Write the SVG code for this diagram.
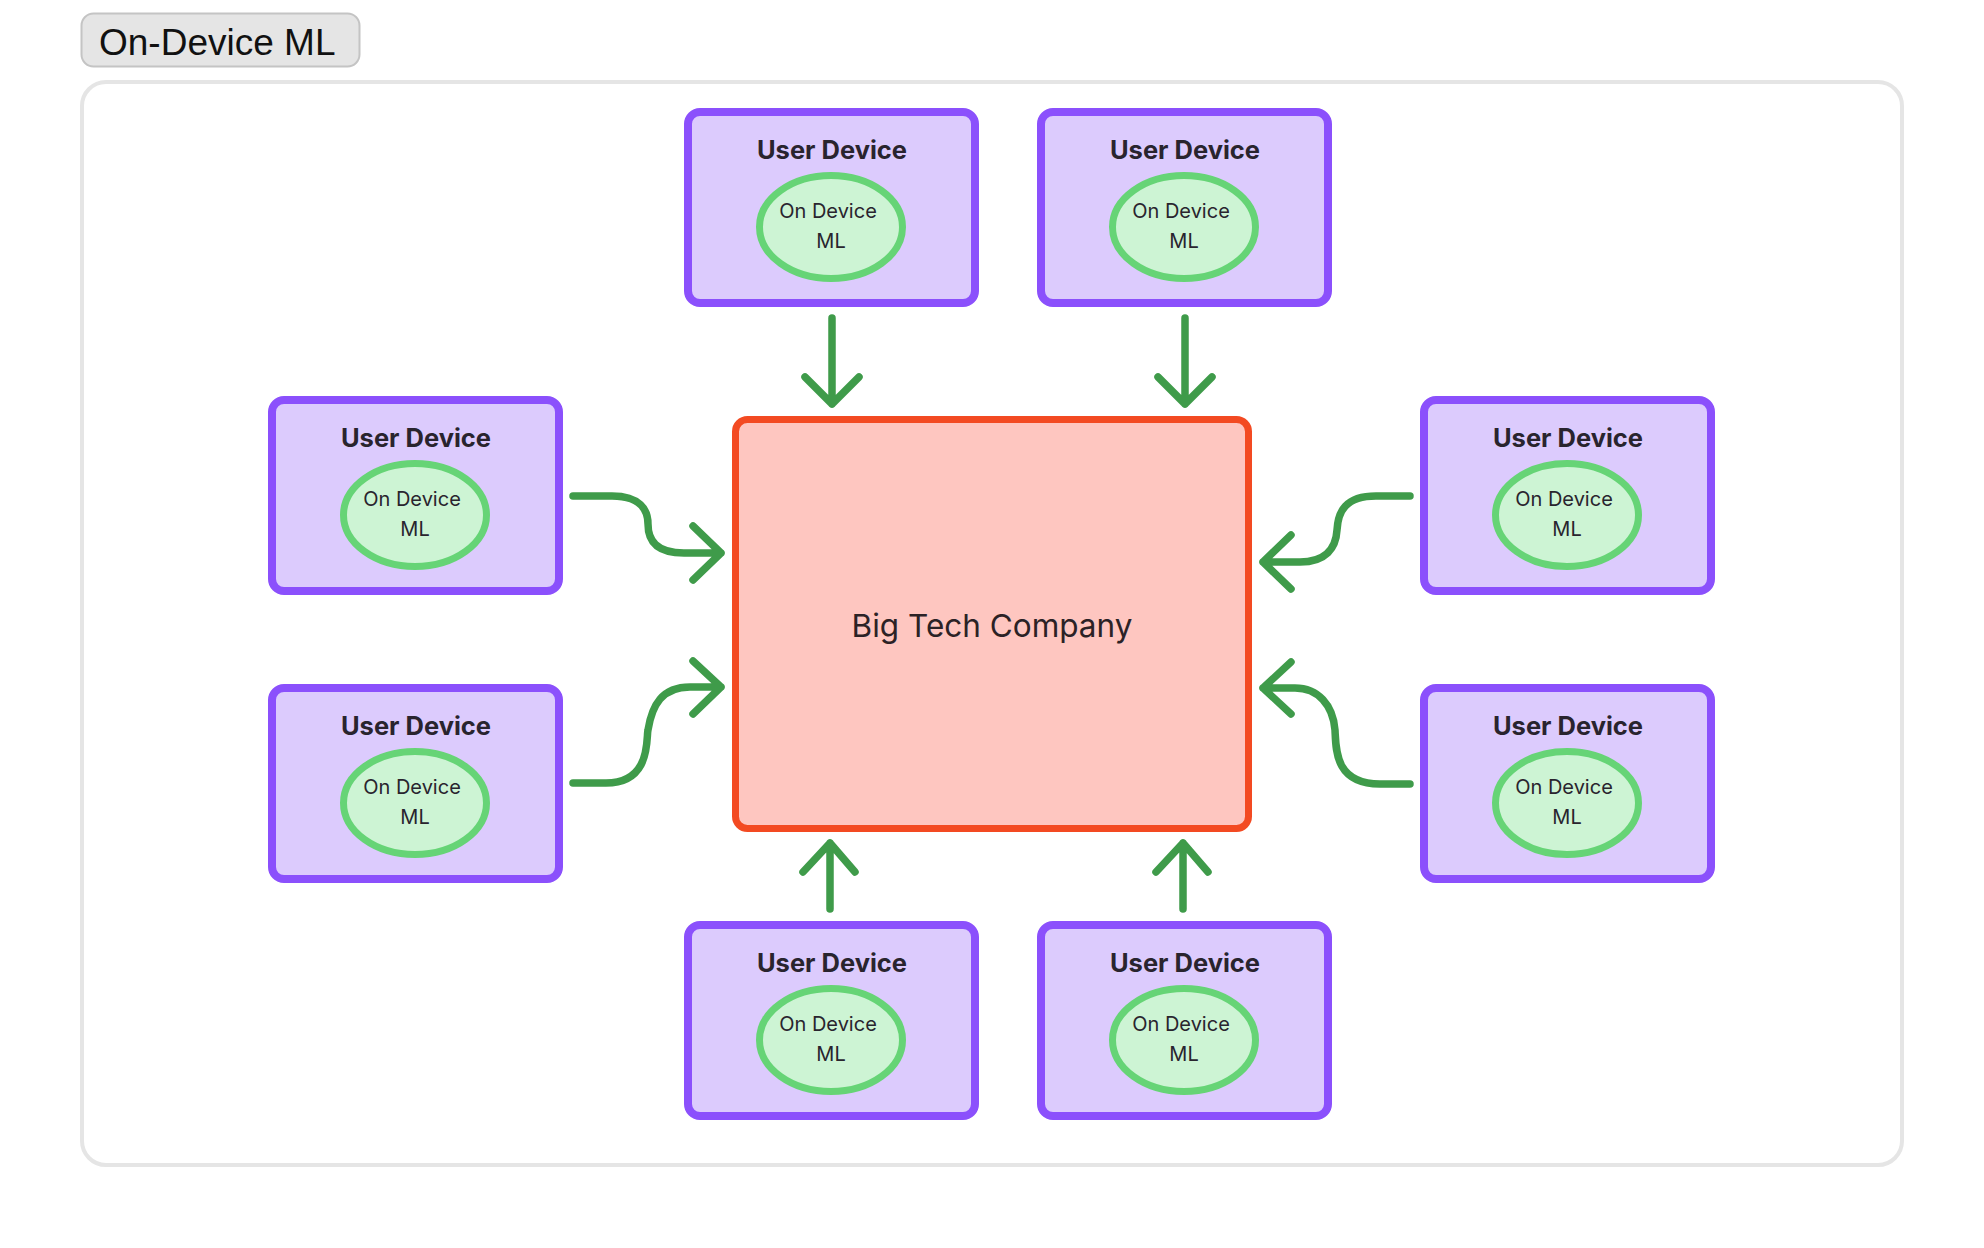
<svg xmlns="http://www.w3.org/2000/svg" width="1984" height="1248" viewBox="0 0 1984 1248">
<style>
.dev{fill:#dccbfd;stroke:#8b50fc;stroke-width:8}
.ml{fill:#cdf4d4;stroke:#66d476;stroke-width:7}
.t1{font-family:Inter,"Noto Sans",sans-serif;font-weight:700;font-size:25.5px;fill:#29242e;text-anchor:middle}
.t2{font-family:Inter,"Noto Sans",sans-serif;font-size:20px;fill:#29242e;text-anchor:middle}
.arr{fill:none;stroke:#3f9b4a;stroke-width:7.5;stroke-linecap:round;stroke-linejoin:round}
</style>
<defs>
<g id="dev">
<rect class="dev" x="4" y="4" width="287" height="191" rx="12"/>
<ellipse class="ml" cx="147" cy="119" rx="71.5" ry="51.5"/>
<text class="t1" x="148" y="51">User Device</text>
<text class="t2" x="144" y="110">On Device</text>
<text class="t2" x="147" y="140">ML</text>
</g>
</defs>
<rect width="1984" height="1248" fill="#ffffff"/>
<g id="title">
<rect x="81.5" y="13.5" width="278" height="53" rx="12" fill="#e5e5e5" stroke="#c4c4c4" stroke-width="2"/>
<text x="99" y="55" font-family="'Liberation Sans',Arial,sans-serif" font-size="37" fill="#111111">On-Device ML</text>
</g>
<g id="frame">
<rect x="82" y="82" width="1820" height="1083" rx="24" fill="none" stroke="#e5e5e5" stroke-width="4"/>
</g>
<g id="bigtech">
<rect x="735.5" y="419.5" width="513" height="409" rx="12" fill="#fec6c0" stroke="#f34a22" stroke-width="7"/>
<text x="992" y="637" font-family="Inter,'Noto Sans',sans-serif" font-size="31.5" fill="#2b2226" text-anchor="middle">Big Tech Company</text>
</g>
<g id="dev-top-1"><use href="#dev" x="684" y="108"/></g>
<g id="dev-top-2"><use href="#dev" x="1037" y="108"/></g>
<g id="dev-left-1"><use href="#dev" x="268" y="396"/></g>
<g id="dev-left-2"><use href="#dev" x="268" y="684"/></g>
<g id="dev-right-1"><use href="#dev" x="1420" y="396"/></g>
<g id="dev-right-2"><use href="#dev" x="1420" y="684"/></g>
<g id="dev-bottom-1"><use href="#dev" x="684" y="921"/></g>
<g id="dev-bottom-2"><use href="#dev" x="1037" y="921"/></g>
<g id="connectors">
<path class="arr" d="M832 318 V404 M805 377 L832 404 L859 377"/>
<path class="arr" d="M1185 318 V404 M1158 377 L1185 404 L1212 377"/>
<path class="arr" d="M830 909 V843 M803 872 L830 843 L855 872"/>
<path class="arr" d="M1183 909 V843 M1156 872 L1183 843 L1208 872"/>
<path class="arr" d="M573 496 L612 496 C640 496 648 510 648 524 C648 540 656 553 684 553 L721 553 M693 526 L721 553 L693 580"/>
<path class="arr" d="M573 783 L606 783 C652 783 646 737 648 730 C652 705 662 687 690 687 L721 687 M693 661 L721 687 L693 714"/>
<path class="arr" d="M1410 496 L1376 496 C1345 496 1338 512 1337 530 C1336 548 1326 562 1300 562 L1263 562 M1291 535 L1263 562 L1291 589"/>
<path class="arr" d="M1410 784 L1380 784 C1335 784 1336 750 1335 730 C1333 705 1318 688 1295 688 L1263 688 M1291 662 L1263 688 L1291 714"/>
</g>
</svg>
